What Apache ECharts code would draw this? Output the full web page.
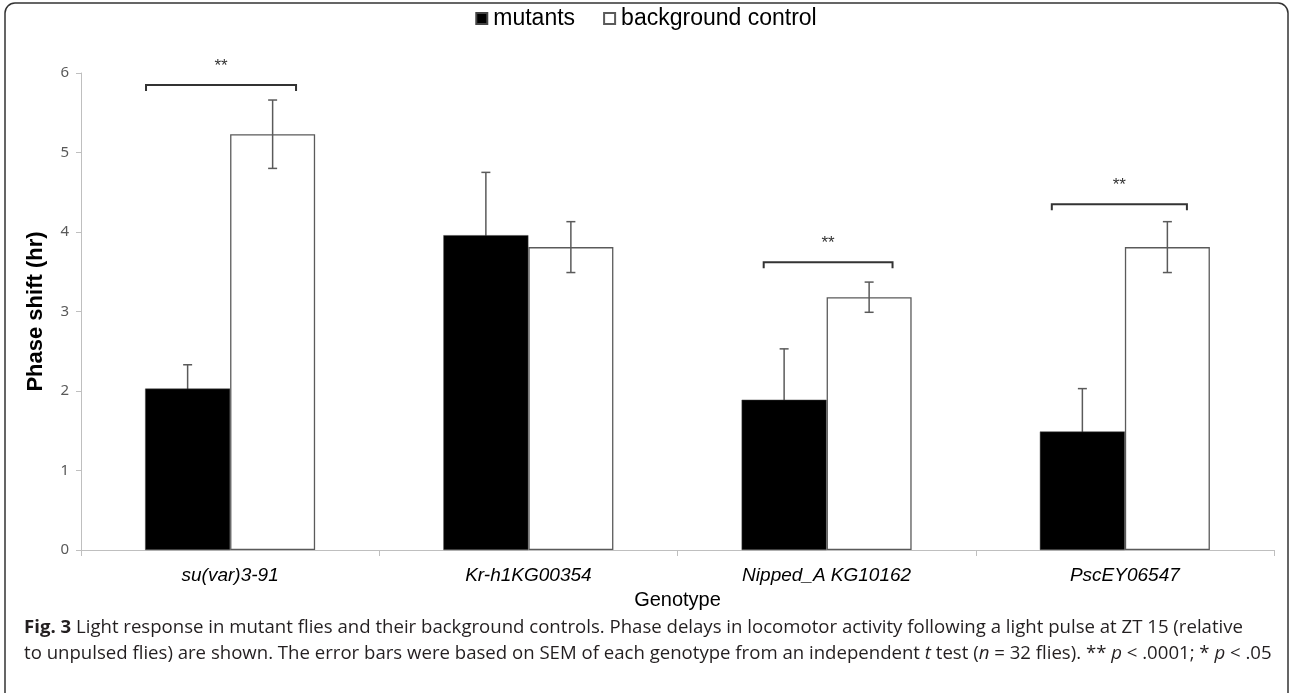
<!DOCTYPE html>
<html>
<head>
<meta charset="utf-8">
<style>html,body{margin:0;padding:0;background:#fff;}#chart{width:1292px;height:693px;}</style>
<script src="https://cdn.jsdelivr.net/npm/echarts@6/dist/echarts.min.js"></script>
</head>
<body>
<div id="chart"></div>
<script>
// ---- data ----
const categories = ['su(var)3-91', 'Kr-h1KG00354', 'Nipped_A KG10162', 'PscEY06547'];
const mutants = [2.03, 3.96, 1.89, 1.49];
const mutantsErr = [0.30, 0.79, 0.64, 0.54];
const controls = [5.23, 3.81, 3.18, 3.81];
const controlsErr = [0.43, 0.32, 0.19, 0.32];
const yTicks = [0, 1, 2, 3, 4, 5, 6];
// significance brackets: category index, bracket level (hr)
const bracketCats = [0, 2, 3];
const bracketLevels = [5.85, 3.62, 4.35];
const bracketLabels = ['**', '**', '**'];
// ---- style (bracket spans as fraction of category band) ----
const bracketSpans = [[-0.282, 0.221], [-0.211, 0.221], [-0.245, 0.208]];

const GAP = 0.43;
function errItem(side) {
  return function (params, api) {
    const c = api.value(0), v = api.value(1), e = api.value(2);
    const band = api.size([1, 0])[0];
    const bw = band * (1 - GAP) / 2;
    const cx = api.coord([c, v])[0] + side * bw / 2;
    const yTop = api.coord([c, v + e])[1];
    const yBot = api.coord([c, v - e])[1];
    const cap = 4.5;
    const st = {stroke: '#5a5a5a', lineWidth: 1.5};
    return {type: 'group', children: [
      {type: 'line', shape: {x1: cx, y1: yTop, x2: cx, y2: yBot}, style: st},
      {type: 'line', shape: {x1: cx - cap, y1: yTop, x2: cx + cap, y2: yTop}, style: st},
      {type: 'line', shape: {x1: cx - cap, y1: yBot, x2: cx + cap, y2: yBot}, style: st}
    ]};
  };
}

const chart = echarts.init(document.getElementById('chart'));
const option = {
  animation: false,
  backgroundColor: '#fff',
  legend: {
    top: 2, left: 'center',
    itemWidth: 11, itemHeight: 11, itemGap: 28,
    icon: 'rect',
    textStyle: {fontFamily: 'Liberation Sans', fontSize: 23, color: '#000', padding: [0, 0, 0, 1]},
    data: ['mutants', 'background control']
  },
  grid: {left: 81, right: 18, top: 73, bottom: 143},
  xAxis: {
    type: 'category', data: categories,
    axisLine: {lineStyle: {color: '#bfbfbf', width: 1}},
    axisTick: {show: true, length: 6, lineStyle: {color: '#bfbfbf'}},
    axisLabel: {fontFamily: 'Liberation Sans', fontStyle: 'italic', fontSize: 19, color: '#000', margin: 16},
    name: 'Genotype', nameLocation: 'middle', nameGap: 40,
    nameTextStyle: {fontFamily: 'Liberation Sans', fontSize: 20, color: '#000'}
  },
  yAxis: {
    type: 'value', min: 0, max: 6, interval: 1,
    axisLine: {show: true, lineStyle: {color: '#bfbfbf', width: 1}},
    axisTick: {show: true, length: 5, lineStyle: {color: '#bfbfbf'}},
    splitLine: {show: false},
    axisLabel: {fontFamily: 'Noto Sans', fontSize: 15, color: '#595959', margin: 12,
      formatter: function (v) { return yTicks.indexOf(v) >= 0 ? String(v) : ''; }},
    name: 'Phase shift (hr)', nameLocation: 'middle', nameGap: 34,
    nameTextStyle: {fontFamily: 'Liberation Sans', fontWeight: 'bold', fontSize: 22, color: '#000'}
  },
  series: [
    {
      name: 'mutants', type: 'bar', data: mutants, z: 3,
      barGap: 0, barCategoryGap: (GAP * 100) + '%',
      itemStyle: {color: '#000', borderColor: '#444', borderWidth: 0.5}
    },
    {
      name: 'background control', type: 'bar', data: controls, z: 3,
      itemStyle: {color: '#fff', borderColor: '#5a5a5a', borderWidth: 1.3}
    },
    {
      type: 'custom', z: 2, silent: true,
      data: mutants.map((v, i) => [i, v, mutantsErr[i]]),
      renderItem: errItem(-1)
    },
    {
      type: 'custom', z: 4, silent: true,
      data: controls.map((v, i) => [i, v, controlsErr[i]]),
      renderItem: errItem(1)
    },
    {
      type: 'custom', z: 5, silent: true, clip: false,
      data: bracketCats.map((c, i) => [c, bracketLevels[i], i]),
      renderItem: function (params, api) {
        const c = api.value(0), lvl = api.value(1), k = api.value(2);
        const band = api.size([1, 0])[0];
        const p = api.coord([c, lvl]);
        const x1 = p[0] + bracketSpans[k][0] * band;
        const x2 = p[0] + bracketSpans[k][1] * band;
        const y = p[1];
        const st = {stroke: '#333', lineWidth: 2, fill: null};
        return {type: 'group', children: [
          {type: 'polyline', shape: {points: [[x1, y + 6], [x1, y], [x2, y], [x2, y + 6]]}, style: st},
          {type: 'text', style: {text: bracketLabels[k], x: (x1 + x2) / 2, y: y - 19,
            fontFamily: 'Liberation Sans', fontSize: 17, fill: '#333', align: 'center', verticalAlign: 'middle'}}
        ]};
      }
    }
  ],
  graphic: [
    {type: 'rect', shape: {x: 5, y: 3, width: 1283, height: 720, r: 10},
      style: {fill: null, stroke: '#333', lineWidth: 1.5}, silent: true},
    {type: 'text', left: 24, top: 615, silent: true,
      style: {
        text: '{b|Fig. 3} Light response in mutant flies and their background controls. Phase delays in locomotor activity following a light pulse at ZT 15 (relative\nto unpulsed flies) are shown. The error bars were based on SEM of each genotype from an independent {i|t} test ({i|n} = 32 flies). ** {i|p} < .0001; * {i|p} < .05',
        fontFamily: 'Open Sans', fontSize: 18.6, fill: '#231f20', lineHeight: 26,
        rich: {
          b: {fontFamily: 'Open Sans', fontWeight: 'bold', fontSize: 18.6, fill: '#231f20'},
          i: {fontFamily: 'Open Sans', fontStyle: 'italic', fontSize: 18.6, fill: '#231f20'}
        }
      }
    }
  ]
};
chart.setOption(option);
</script>
</body>
</html>
